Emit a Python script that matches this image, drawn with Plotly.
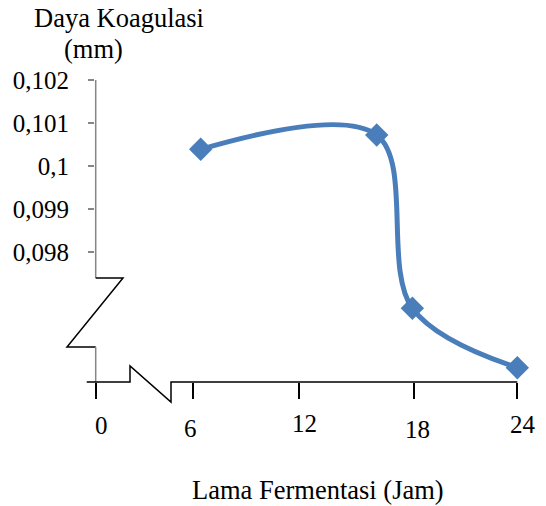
import plotly.graph_objects as go

# ---- data ----
hours = [6.41, 16.19, 18.17, 24.0]
coag = [0.100391, 0.100723, 0.0967, 0.095322]

y_ticks = [0.098, 0.099, 0.100, 0.101, 0.102]
y_ticktext = ["0,098", "0,099", "0,1", "0,101", "0,102"]

x_tick_pos = [0.578, 6, 11.89, 18.28, 24]
x_ticktext = ["0", "6", "12", "18", "24"]
x_label_pos = [0.91, 5.83, 12.2, 18.43, 24.32]
x_label_drop = [43, 46, 41, 47, 42]

FONT = "Liberation Serif"
FS = 25
FS_TITLE = 26.5
W, H = 546, 506
L, R, T, B = 95, 16, 70, 124
PW, PH = W - L - R, H - T - B


def px(p):
    return (p - L) / PW


def py(p):
    return (H - B - p) / PH


fig = go.Figure()
fig.add_trace(go.Scatter(
    x=hours, y=coag, mode="lines+markers",
    line=dict(color="#4A7EBB", width=5, shape="spline", smoothing=1.0),
    marker=dict(symbol="diamond", size=18, color="#4A7EBB"),
    cliponaxis=False, showlegend=False,
))

gray = dict(color="#868686", width=1.5)
black = dict(color="#000000", width=1.5)
shapes = [
    dict(type="line", xref="paper", yref="paper", x0=px(95.7), x1=px(95.7), y0=py(80), y1=py(278), line=gray),
    dict(type="path", xref="paper", yref="paper",
         path=f"M {px(95.7)},{py(278)} L {px(123)},{py(278)} L {px(67)},{py(347)} L {px(95.7)},{py(347)}",
         line=black),
    dict(type="line", xref="paper", yref="paper", x0=px(95.7), x1=px(95.7), y0=py(347), y1=py(382), line=gray),
    dict(type="path", xref="paper", yref="paper",
         path=(f"M {px(86.7)},{py(382)} L {px(130)},{py(382)} L {px(130)},{py(366)} "
               f"L {px(171)},{py(402)} L {px(171)},{py(382)} L {px(517.3)},{py(382)}"),
         line=black),
]

tf = dict(family=FONT, size=FS, color="black")
ttf = dict(family=FONT, size=FS_TITLE, color="black")
annotations = [
    dict(text="Daya Koagulasi", x=px(118.5), y=py(18), xref="paper", yref="paper",
         showarrow=False, xanchor="center", yanchor="middle", font=ttf),
    dict(text="(mm)", x=px(93), y=py(49), xref="paper", yref="paper",
         showarrow=False, xanchor="center", yanchor="middle", font=ttf),
    dict(text="Lama Fermentasi (Jam)", x=px(318), y=py(490), xref="paper", yref="paper",
         showarrow=False, xanchor="center", yanchor="middle", font=ttf),
]
for xp, t, d in zip(x_label_pos, x_ticktext, x_label_drop):
    annotations.append(dict(text=t, x=xp, y=0, xref="x", yref="paper", yshift=-d,
                            showarrow=False, xanchor="center", yanchor="middle", font=tf))

fig.update_layout(
    width=W, height=H,
    margin=dict(l=L, r=R, t=T, b=B, pad=0),
    plot_bgcolor="white", paper_bgcolor="white",
    font=dict(family=FONT, size=FS, color="black"),
    shapes=shapes, annotations=annotations,
    xaxis=dict(range=[0.539, 0.539 + PW / 18.0], showgrid=False, zeroline=False, showline=False,
               tickmode="array", tickvals=x_tick_pos, ticktext=[""] * 5,
               ticks="outside", ticklen=16, tickwidth=1.5, tickcolor="black", fixedrange=True),
    yaxis=dict(range=[0.102 - (H - B - 80) / 43080.0, 0.102 + (80 - T) / 43080.0],
               showgrid=False, zeroline=False, showline=False,
               tickmode="array", tickvals=y_ticks, ticktext=y_ticktext,
               ticks="outside", ticklen=6, tickwidth=1.5, tickcolor="#868686",
               ticklabelstandoff=14, tickfont=tf),
)

fig.write_html("out.html")
